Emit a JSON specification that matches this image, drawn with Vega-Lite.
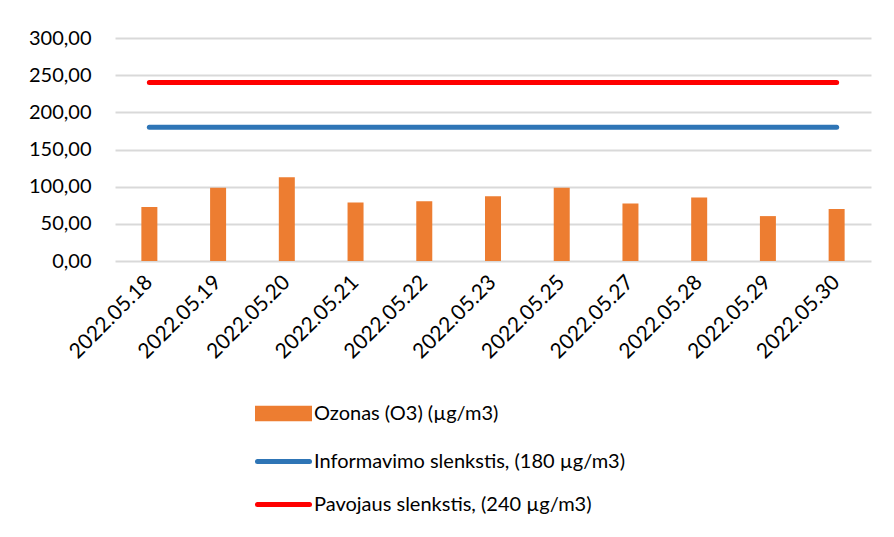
{
  "$schema": "https://vega.github.io/schema/vega-lite/v6.json",
  "width": 756,
  "height": 223,
  "autosize": {"type": "none"},
  "padding": {"left": 115, "top": 38, "right": 23, "bottom": 276},
  "background": "white",
  "config": {
    "font": "Lato",
    "view": {"stroke": null},
    "axis": {"labelFont": "Lato", "labelColor": "#000000", "labelFontSize": 20}
  },
  "data": {
    "values": [
      {"date": "2022.05.18", "series": "Ozonas (O3) (µg/m3)", "value": 72.5},
      {"date": "2022.05.19", "series": "Ozonas (O3) (µg/m3)", "value": 98.4},
      {"date": "2022.05.20", "series": "Ozonas (O3) (µg/m3)", "value": 112.8},
      {"date": "2022.05.21", "series": "Ozonas (O3) (µg/m3)", "value": 78.8},
      {"date": "2022.05.22", "series": "Ozonas (O3) (µg/m3)", "value": 80.5},
      {"date": "2022.05.23", "series": "Ozonas (O3) (µg/m3)", "value": 87.2},
      {"date": "2022.05.25", "series": "Ozonas (O3) (µg/m3)", "value": 98.4},
      {"date": "2022.05.27", "series": "Ozonas (O3) (µg/m3)", "value": 77.4},
      {"date": "2022.05.28", "series": "Ozonas (O3) (µg/m3)", "value": 85.5},
      {"date": "2022.05.29", "series": "Ozonas (O3) (µg/m3)", "value": 60.4},
      {"date": "2022.05.30", "series": "Ozonas (O3) (µg/m3)", "value": 69.8},
      {"date": "2022.05.18", "series": "Informavimo slenkstis, (180 µg/m3)", "value": 180},
      {"date": "2022.05.19", "series": "Informavimo slenkstis, (180 µg/m3)", "value": 180},
      {"date": "2022.05.20", "series": "Informavimo slenkstis, (180 µg/m3)", "value": 180},
      {"date": "2022.05.21", "series": "Informavimo slenkstis, (180 µg/m3)", "value": 180},
      {"date": "2022.05.22", "series": "Informavimo slenkstis, (180 µg/m3)", "value": 180},
      {"date": "2022.05.23", "series": "Informavimo slenkstis, (180 µg/m3)", "value": 180},
      {"date": "2022.05.25", "series": "Informavimo slenkstis, (180 µg/m3)", "value": 180},
      {"date": "2022.05.27", "series": "Informavimo slenkstis, (180 µg/m3)", "value": 180},
      {"date": "2022.05.28", "series": "Informavimo slenkstis, (180 µg/m3)", "value": 180},
      {"date": "2022.05.29", "series": "Informavimo slenkstis, (180 µg/m3)", "value": 180},
      {"date": "2022.05.30", "series": "Informavimo slenkstis, (180 µg/m3)", "value": 180},
      {"date": "2022.05.18", "series": "Pavojaus slenkstis, (240 µg/m3)", "value": 240},
      {"date": "2022.05.19", "series": "Pavojaus slenkstis, (240 µg/m3)", "value": 240},
      {"date": "2022.05.20", "series": "Pavojaus slenkstis, (240 µg/m3)", "value": 240},
      {"date": "2022.05.21", "series": "Pavojaus slenkstis, (240 µg/m3)", "value": 240},
      {"date": "2022.05.22", "series": "Pavojaus slenkstis, (240 µg/m3)", "value": 240},
      {"date": "2022.05.23", "series": "Pavojaus slenkstis, (240 µg/m3)", "value": 240},
      {"date": "2022.05.25", "series": "Pavojaus slenkstis, (240 µg/m3)", "value": 240},
      {"date": "2022.05.27", "series": "Pavojaus slenkstis, (240 µg/m3)", "value": 240},
      {"date": "2022.05.28", "series": "Pavojaus slenkstis, (240 µg/m3)", "value": 240},
      {"date": "2022.05.29", "series": "Pavojaus slenkstis, (240 µg/m3)", "value": 240},
      {"date": "2022.05.30", "series": "Pavojaus slenkstis, (240 µg/m3)", "value": 240}
    ]
  },
  "encoding": {
    "x": {
      "field": "date", "type": "ordinal", "title": null,
      "scale": {"paddingInner": 0, "paddingOuter": 0},
      "axis": {"labelAngle": -45, "labelAlign": "right", "labelBaseline": "middle", "labelPadding": 18, "labelFontSize": 21, "domain": false, "ticks": false, "grid": false}
    },
    "y": {
      "field": "value", "type": "quantitative", "title": null,
      "scale": {"domain": [0, 300], "nice": false},
      "axis": {"values": [0, 50, 100, 150, 200, 250, 300], "labelExpr": "replace(format(datum.value, '.2f'), '.', ',')", "domain": false, "ticks": false, "grid": true, "gridColor": "#d9d9d9", "gridWidth": 2, "labelPadding": 24}
    },
    "color": {
      "field": "series", "type": "nominal",
      "scale": {
        "domain": ["Ozonas (O3) (µg/m3)", "Informavimo slenkstis, (180 µg/m3)", "Pavojaus slenkstis, (240 µg/m3)"],
        "range": ["#ED7D31", "#2E75B6", "#FF0000"]
      },
      "legend": {
        "title": null, "orient": "none", "legendX": 140, "legendY": 347, "direction": "vertical",
        "labelFontSize": 20, "labelFont": "Lato", "labelColor": "#000000", "labelLimit": 0,
        "symbolSize": 2704, "labelOffset": 2, "rowPadding": 4,
        "encode": {
          "symbols": {
            "update": {
              "shape": {"signal": "datum.value === 'Ozonas (O3) (µg/m3)' ? 'M-1,-0.2H1V0.2H-1Z' : 'stroke'"},
              "fill": {"signal": "datum.value === 'Ozonas (O3) (µg/m3)' ? '#ED7D31' : 'transparent'"},
              "stroke": {"signal": "datum.value === 'Ozonas (O3) (µg/m3)' ? 'transparent' : scale('color', datum.value)"},
              "strokeWidth": {"value": 5},
              "strokeCap": {"value": "round"},
              "opacity": {"value": 1},
              "fillOpacity": {"value": 1},
              "strokeOpacity": {"value": 1}
            }
          }
        }
      }
    }
  },
  "layer": [
    {
      "transform": [{"filter": "datum.series === 'Ozonas (O3) (µg/m3)'"}],
      "mark": {"type": "bar", "size": 16, "opacity": 1}
    },
    {
      "transform": [{"filter": "datum.series !== 'Ozonas (O3) (µg/m3)'"}],
      "mark": {"type": "line", "strokeWidth": 5, "strokeCap": "round"}
    }
  ]
}
